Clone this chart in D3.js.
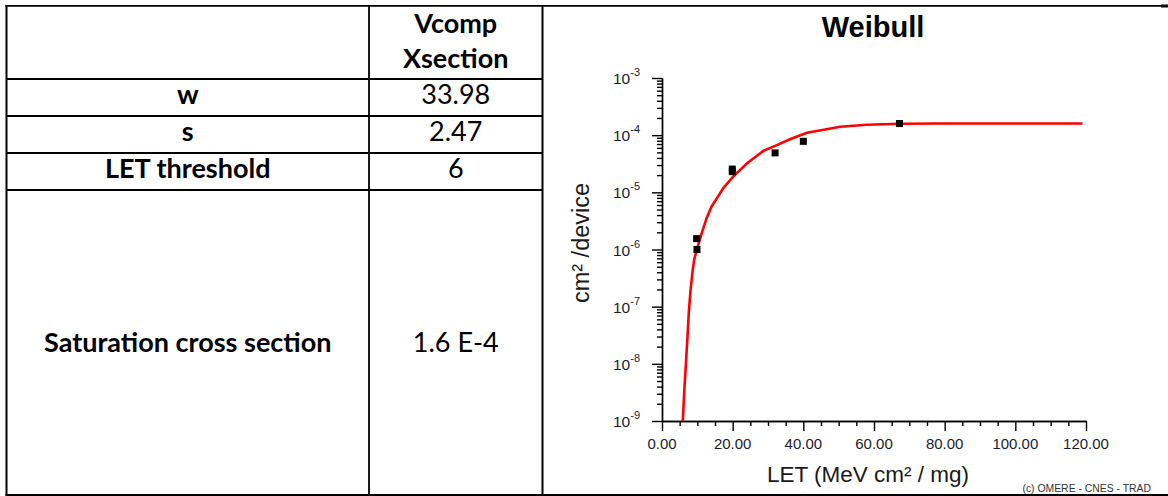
<!DOCTYPE html>
<html>
<head>
<meta charset="utf-8">
<script src="https://cdn.jsdelivr.net/npm/d3@7"></script>
<style>
  body { margin: 0; background: #fff; }
  svg { display: block; }
</style>
</head>
<body>
<svg id="figure" width="1168" height="496"></svg>
<script>
// table contents
const headerLines = ['Vcomp', 'Xsection'];
const paramNames = ['w', 's', 'LET threshold', 'Saturation cross section'];
const paramValues = ['33.98', '2.47', '6', '1.6 E-4'];

// measured cross sections (squares)
const pointLET = [9.8, 9.9, 19.9, 19.9, 32.0, 40.0, 67.2];
const pointSigma = [1.55e-6, 1.0e-6, 2.55e-5, 2.3e-5, 4.9e-5, 7.8e-5, 1.6e-4];

// weibull fit
const curveLET = [5.9, 6.3, 6.8, 7.3, 7.6, 8.1, 8.7, 9.1, 9.8, 11.2, 12.6, 14.0, 15.6, 17.4,
  20.2, 24.0, 28.7, 32.5, 36.2, 41.0, 46.6, 50.4, 57.9, 67.4, 78.7, 119.0];
const curveSigma = [1e-9, 3.3e-9, 1.1e-8, 3.7e-8, 8.2e-8, 2.0e-7, 4.4e-7, 6.6e-7, 9.8e-7, 1.9e-6,
  3.5e-6, 5.6e-6, 8.0e-6, 1.2e-5, 1.9e-5, 3.2e-5, 5.3e-5, 6.7e-5, 8.5e-5, 1.1e-4, 1.27e-4,
  1.4e-4, 1.52e-4, 1.58e-4, 1.6e-4, 1.6e-4];

const xMajor = [0, 20, 40, 60, 80, 100, 120];
const yExponents = [-9, -8, -7, -6, -5, -4, -3];

const svg = d3.select('#figure');
const ink = '#000';
const tableFont = 'Lato, "Open Sans", sans-serif';
const chartFont = '"Liberation Sans", Arial, sans-serif';

// ---- table ----
const tLeft = 6.5, tMid = 369, tRight = 542.5;
const rowEdges = [6, 79, 116, 153, 190, 495];

const table = svg.append('g');

table.selectAll('line.row')
  .data(rowEdges.slice(1, -1))
  .enter()
  .append('line')
    .attr('class', 'row')
    .attr('x1', tLeft).attr('x2', tRight)
    .attr('y1', d => d).attr('y2', d => d)
    .attr('stroke', ink).attr('stroke-width', 1.8);

table.append('line')
  .attr('x1', tMid).attr('x2', tMid)
  .attr('y1', rowEdges[0]).attr('y2', rowEdges[5])
  .attr('stroke', ink).attr('stroke-width', 1.8);

// outer frame shared with the picture cell
table.append('line').attr('x1', tLeft).attr('x2', tLeft).attr('y1', 5).attr('y2', 496)
  .attr('stroke', ink).attr('stroke-width', 2);
table.append('line').attr('x1', tRight).attr('x2', tRight).attr('y1', 5).attr('y2', 496)
  .attr('stroke', ink).attr('stroke-width', 2);
table.append('line').attr('x1', tLeft - 1).attr('x2', 1161).attr('y1', 5.8).attr('y2', 5.8)
  .attr('stroke', ink).attr('stroke-width', 1.8);
table.append('line').attr('x1', 1161).attr('x2', 1168).attr('y1', 6).attr('y2', 6)
  .attr('stroke', ink).attr('stroke-width', 3);
table.append('line').attr('x1', tLeft - 1).attr('x2', 1168).attr('y1', 495).attr('y2', 495)
  .attr('stroke', ink).attr('stroke-width', 2);

const col1 = (tLeft + tMid) / 2, col2 = (tMid + tRight) / 2;

table.selectAll('text.head')
  .data(headerLines)
  .enter()
  .append('text')
    .attr('class', 'head')
    .attr('x', col2)
    .attr('y', (d, i) => 33 + i * 35)
    .attr('text-anchor', 'middle')
    .attr('font-family', tableFont).attr('font-weight', 700).attr('font-size', 27)
    .text(d => d);

const baselines = [104, 141, 178, 352];

table.selectAll('text.name')
  .data(paramNames)
  .enter()
  .append('text')
    .attr('class', 'name')
    .attr('x', col1)
    .attr('y', (d, i) => baselines[i])
    .attr('text-anchor', 'middle')
    .attr('font-family', tableFont).attr('font-weight', 700).attr('font-size', 27)
    .text(d => d);

table.selectAll('text.value')
  .data(paramValues)
  .enter()
  .append('text')
    .attr('class', 'value')
    .attr('x', col2)
    .attr('y', (d, i) => baselines[i])
    .attr('text-anchor', 'middle')
    .attr('font-family', tableFont).attr('font-size', 27)
    .text(d => d);

// ---- chart ----
const x = d3.scaleLinear().domain([0, 120]).range([662, 1086]);
const y = d3.scaleLog().domain([1e-9, 1e-3]).range([421, 78]);

const chart = svg.append('g').attr('font-family', chartFont);

chart.append('text')
  .attr('x', 873).attr('y', 37)
  .attr('text-anchor', 'middle')
  .attr('font-weight', 700).attr('font-size', 29)
  .text('Weibull');

// y axis: minor ticks then major ticks
const yMinor = [];
yExponents.slice(0, -1).forEach(e => {
  for (let k = 2; k <= 9; k++) yMinor.push(k * Math.pow(10, e));
});
const yMajorVals = yExponents.map(e => Math.pow(10, e));

chart.append('g')
  .attr('transform', 'translate(662,0)')
  .call(d3.axisLeft(y).tickValues(yMinor).tickSize(5).tickSizeOuter(0).tickFormat(''));
chart.append('g')
  .attr('transform', 'translate(662,0)')
  .call(d3.axisLeft(y).tickValues(yMajorVals).tickSize(10).tickSizeOuter(0).tickFormat(''));

const yLab = chart.selectAll('text.ylab')
  .data(yExponents)
  .enter()
  .append('text')
    .attr('class', 'ylab')
    .attr('x', 640)
    .attr('y', d => y(Math.pow(10, d)) + 6)
    .attr('text-anchor', 'end')
    .attr('fill', '#1c1c2c');
yLab.append('tspan').attr('font-size', 15.5).text('10');
yLab.append('tspan').attr('font-size', 11).attr('dy', -8).text(d => d);

// x axis
const xMinor = d3.range(0, 121, 5).filter(v => v % 20 !== 0);
chart.append('g')
  .attr('transform', 'translate(0,421)')
  .call(d3.axisBottom(x).tickValues(xMinor).tickSize(5).tickSizeOuter(0).tickFormat(''));
chart.append('g')
  .attr('transform', 'translate(0,421)')
  .call(d3.axisBottom(x).tickValues(xMajor).tickSize(10).tickSizeOuter(0).tickFormat(''));

chart.selectAll('text.xlab')
  .data(xMajor)
  .enter()
  .append('text')
    .attr('class', 'xlab')
    .attr('x', d => x(d))
    .attr('y', 448.5)
    .attr('text-anchor', 'middle')
    .attr('font-size', 15)
    .attr('fill', '#1c1c2c')
    .text(d => d.toFixed(2));

chart.selectAll('.domain, .tick line')
  .attr('stroke', ink)
  .attr('stroke-width', 1.4);

chart.append('text')
  .attr('x', 868).attr('y', 482)
  .attr('text-anchor', 'middle')
  .attr('font-size', 22.5)
  .attr('fill', '#1a1a1a')
  .text('LET (MeV cm\u00b2 / mg)');

chart.append('text')
  .attr('transform', 'translate(589,243) rotate(-90)')
  .attr('text-anchor', 'middle')
  .attr('font-size', 23.5)
  .attr('fill', '#1a1a1a')
  .text('cm\u00b2 /device');

chart.append('text')
  .attr('x', 1151).attr('y', 492)
  .attr('text-anchor', 'end')
  .attr('font-size', 10.4)
  .attr('fill', '#333')
  .text('(c) OMERE - CNES - TRAD');

// fitted curve
const curve = curveLET.map((v, i) => [v, curveSigma[i]]);
chart.append('path')
  .datum(curve)
  .attr('fill', 'none')
  .attr('stroke', '#ff0000')
  .attr('stroke-width', 2.6)
  .attr('d', d3.line().x(d => x(d[0])).y(d => y(d[1])));

// measured points
chart.selectAll('rect.pt')
  .data(pointLET.map((v, i) => [v, pointSigma[i]]))
  .enter()
  .append('rect')
    .attr('class', 'pt')
    .attr('x', d => x(d[0]) - 3.5)
    .attr('y', d => y(d[1]) - 3.5)
    .attr('width', 7).attr('height', 7)
    .attr('fill', '#000');
</script>
</body>
</html>
